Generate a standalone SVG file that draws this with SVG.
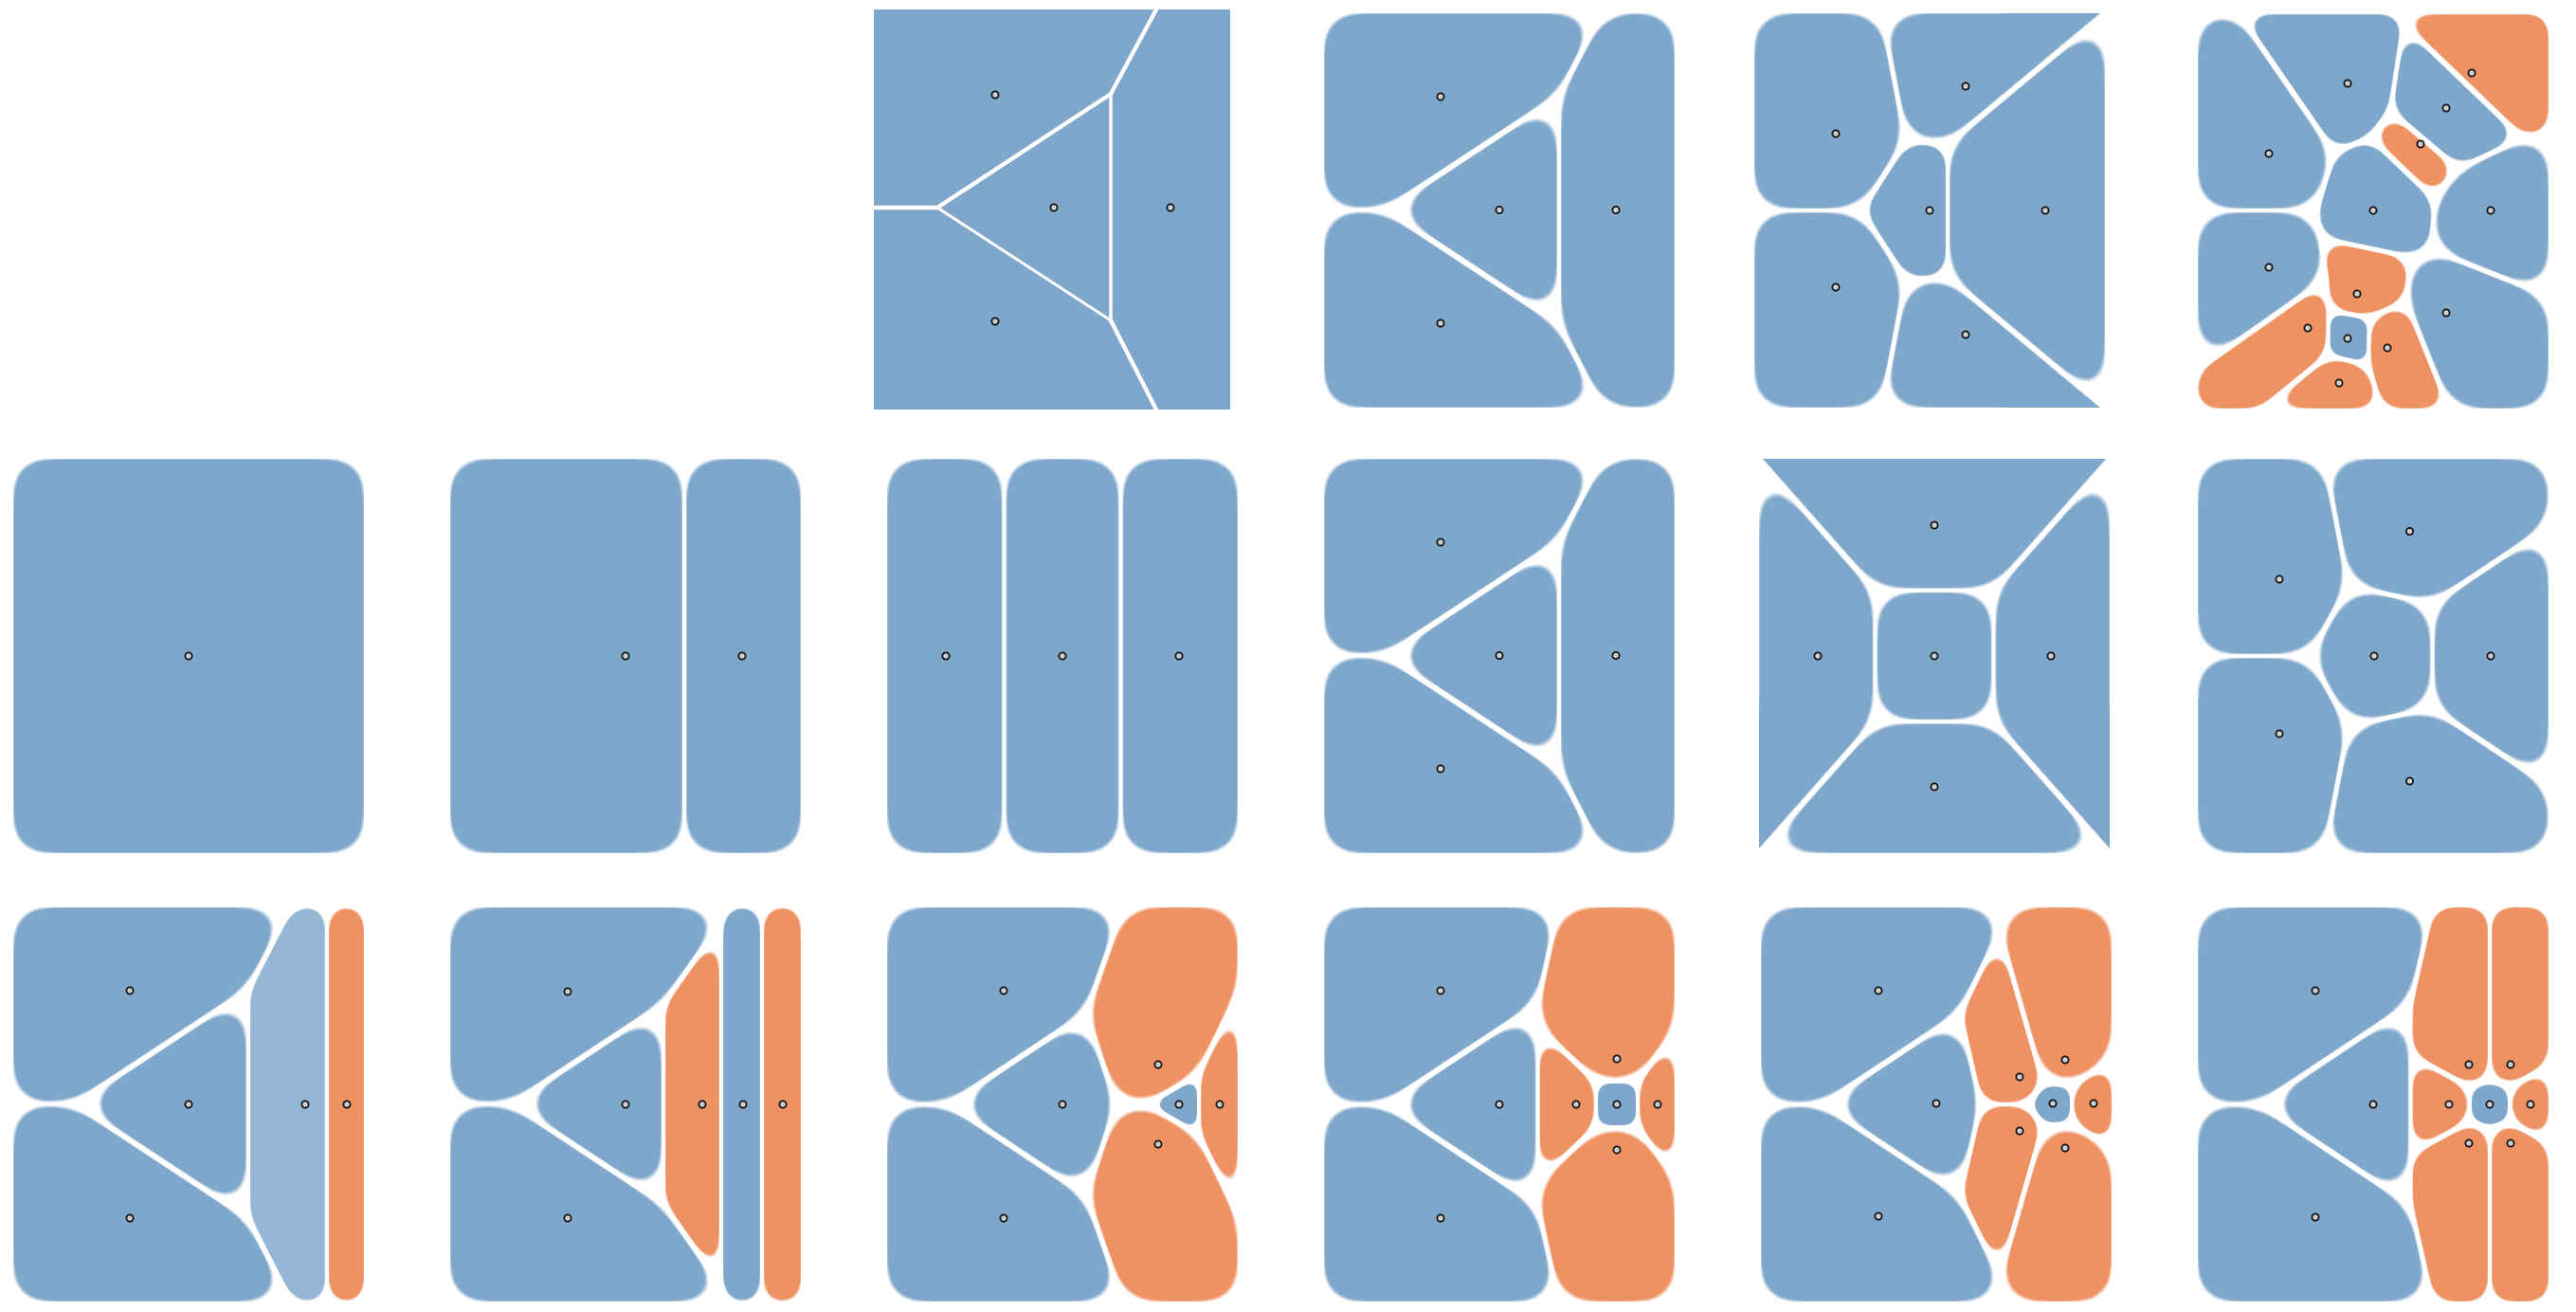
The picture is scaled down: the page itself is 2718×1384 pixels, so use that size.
<svg xmlns="http://www.w3.org/2000/svg" width="2718" height="1384" viewBox="0 0 2718 1384">
<style>
.b{fill:#7fa7cb}.o{fill:#ee9263}.lb{fill:#95b6d5}
.L{filter:url(#fL)}.M{filter:url(#fM)}.S{filter:url(#fS)}
.c{clip-path:url(#dom)}
.s{fill:#cfcfcf;stroke:#111;stroke-width:1.8}
.ln{stroke:#fff;fill:none;stroke-linecap:round}
</style>
<defs>
<filter id="fL" x="-25%" y="-25%" width="150%" height="150%" color-interpolation-filters="sRGB">
<feMorphology in="SourceAlpha" operator="erode" radius="2.4" result="e"/>
<feGaussianBlur in="e" stdDeviation="20" result="bl"/>
<feComponentTransfer in="bl" result="t"><feFuncA type="linear" slope="14" intercept="-6.4"/></feComponentTransfer>
<feComposite in="SourceGraphic" in2="t" operator="in" result="k"/>
<feComposite in="k" in2="e" operator="in"/>
</filter>
<filter id="fM" x="-25%" y="-25%" width="150%" height="150%" color-interpolation-filters="sRGB">
<feMorphology in="SourceAlpha" operator="erode" radius="2.4" result="e"/>
<feGaussianBlur in="e" stdDeviation="12" result="bl"/>
<feComponentTransfer in="bl" result="t"><feFuncA type="linear" slope="14" intercept="-6.4"/></feComponentTransfer>
<feComposite in="SourceGraphic" in2="t" operator="in" result="k"/>
<feComposite in="k" in2="e" operator="in"/>
</filter>
<filter id="fS" x="-25%" y="-25%" width="150%" height="150%" color-interpolation-filters="sRGB">
<feMorphology in="SourceAlpha" operator="erode" radius="2.4" result="e"/>
<feGaussianBlur in="e" stdDeviation="7" result="bl"/>
<feComponentTransfer in="bl" result="t"><feFuncA type="linear" slope="14" intercept="-6.4"/></feComponentTransfer>
<feComposite in="SourceGraphic" in2="t" operator="in" result="k"/>
<feComposite in="k" in2="e" operator="in"/>
</filter>
<clipPath id="dom" clipPathUnits="userSpaceOnUse"><rect x="2" y="2" width="370" height="416"/></clipPath>
</defs>
<rect width="2718" height="1384" fill="#fff"/>

<!-- Row 1, panel 3 (hard Voronoi) -->
<g id="r1p3" transform="translate(922,10)">
<rect class="b" x="0" y="0" width="376" height="422"/>
<g class="ln">
<path stroke-width="4.4" d="M0,209 L67,209 L250,89 L298,0"/>
<path stroke-width="3" d="M67,209 L250,328"/>
<path stroke-width="3.4" d="M250,89 L250,328"/>
<path stroke-width="4.4" d="M250,328 L298,422"/>
</g>
<circle class="s" cx="128" cy="90" r="3.6"/><circle class="s" cx="190" cy="209" r="3.6"/><circle class="s" cx="313" cy="209" r="3.6"/><circle class="s" cx="128" cy="329" r="3.6"/>
</g>

<!-- Row 1, panel 4 -->
<g id="r1p4" transform="translate(1395,12)">
<polygon class="b L" points="0,0 296,0 250,89 67,209.5 0,209.5"/>
<polygon class="b L" points="67,209.5 250,89 250,330"/>
<polygon class="b L" points="296,0 374,0 374,420 296,420 250,330 250,89"/>
<polygon class="b L" points="0,209.5 67,209.5 250,330 296,420 0,420"/>
<circle class="s" cx="125" cy="90" r="3.6"/><circle class="s" cx="187" cy="209.5" r="3.6"/><circle class="s" cx="310" cy="209.5" r="3.6"/><circle class="s" cx="125" cy="329" r="3.6"/>
</g>

<!-- Row 1, panel 5 -->
<g id="r1p5" transform="translate(1849,12)">
<polygon class="b L" points="0,0 136,0 162,137 115,210 0,210"/>
<g class="c"><polygon class="b L" points="136,0 300,0 300,-49 433,-49 206,140 162,137"/></g>
<polygon class="b M" points="162,137 206,140 206,280 162,283 115,210"/>
<polygon class="b L" points="374,0 374,420 206,280 206,140"/>
<polygon class="b L" points="0,210 115,210 162,283 136,420 0,420"/>
<g class="c"><polygon class="b L" points="136,420 162,283 206,280 433,469 300,469 300,420"/></g>
<circle class="s" cx="88" cy="129" r="3.6"/><circle class="s" cx="225" cy="79" r="3.6"/><circle class="s" cx="187" cy="210" r="3.6"/><circle class="s" cx="309" cy="210" r="3.6"/><circle class="s" cx="88" cy="291" r="3.6"/><circle class="s" cx="225" cy="341" r="3.6"/>
</g>

<!-- Row 1, panel 6 -->
<g id="r1p6" transform="translate(2317,13)">
<polygon class="b L" points="0,0 44,0 146,148 127,209 0,209"/>
<polygon class="b M" points="44,0 219,0 219,12 205,104 184,132 146,148"/>
<polygon class="o M" points="219,0 374,0 374,127 345,133 219,12"/>
<polygon class="b M" points="219,12 345,133 277,165 205,104"/>
<polygon class="o M" points="205,104 277,165 252,197 184,132"/>
<polygon class="b L" points="252,197 277,165 345,133 374,127 374,300 248,250"/>
<polygon class="b M" points="146,148 184,132 252,197 248,250 226,258 131,238 127,209"/>
<polygon class="b L" points="0,209 127,209 131,238 138,281 0,378"/>
<polygon class="o M" points="131,238 226,258 222,305 183,322 140,315 138,281"/>
<polygon class="o M" points="0,378 138,281 140,315 139,362 68,420 0,420"/>
<polygon class="b S" points="140,315 183,322 182,372 139,362"/>
<polygon class="o M" points="183,322 222,305 268,420 196,420 182,372"/>
<polygon class="o M" points="139,362 182,372 196,420 68,420"/>
<polygon class="b L" points="248,250 374,300 374,420 268,420 222,305 226,258"/>
<circle class="s" cx="160" cy="75" r="3.6"/><circle class="s" cx="291" cy="64" r="3.6"/><circle class="s" cx="264" cy="101" r="3.6"/><circle class="s" cx="77" cy="149" r="3.6"/><circle class="s" cx="237" cy="139" r="3.6"/><circle class="s" cx="187" cy="209" r="3.6"/><circle class="s" cx="311" cy="209" r="3.6"/><circle class="s" cx="77" cy="269" r="3.6"/><circle class="s" cx="170" cy="297" r="3.6"/><circle class="s" cx="118" cy="333" r="3.6"/><circle class="s" cx="160" cy="344" r="3.6"/><circle class="s" cx="202" cy="354" r="3.6"/><circle class="s" cx="151" cy="391" r="3.6"/><circle class="s" cx="264" cy="317" r="3.6"/>
</g>

<!-- Row 2 -->
<g id="r2p1" transform="translate(12,482)">
<polygon class="b L" points="0,0 374,0 374,420 0,420"/>
<circle class="s" cx="187" cy="210" r="3.6"/>
</g>
<g id="r2p2" transform="translate(473,482)">
<polygon class="b L" points="0,0 249,0 249,420 0,420"/>
<polygon class="b L" points="249,0 374,0 374,420 249,420"/>
<circle class="s" cx="187" cy="210" r="3.6"/><circle class="s" cx="310" cy="210" r="3.6"/>
</g>
<g id="r2p3" transform="translate(934,482)">
<polygon class="b L" points="0,0 125.5,0 125.5,420 0,420"/>
<polygon class="b L" points="125.5,0 248.5,0 248.5,420 125.5,420"/>
<polygon class="b L" points="248.5,0 374,0 374,420 248.5,420"/>
<circle class="s" cx="64" cy="210" r="3.6"/><circle class="s" cx="187" cy="210" r="3.6"/><circle class="s" cx="310" cy="210" r="3.6"/>
</g>
<g id="r2p4" transform="translate(1395,482)">
<polygon class="b L" points="0,0 296,0 250,89 67,209.5 0,209.5"/>
<polygon class="b L" points="67,209.5 250,89 250,330"/>
<polygon class="b L" points="296,0 374,0 374,420 296,420 250,330 250,89"/>
<polygon class="b L" points="0,209.5 67,209.5 250,330 296,420 0,420"/>
<circle class="s" cx="125" cy="90" r="3.6"/><circle class="s" cx="187" cy="209.5" r="3.6"/><circle class="s" cx="310" cy="209.5" r="3.6"/><circle class="s" cx="125" cy="329" r="3.6"/>
</g>
<g id="r2p5" transform="translate(1854,482)">
<g class="c"><polygon class="b L" points="-43.6,-49.3 417.6,-49.3 249.5,140.8 124.5,140.8"/></g>
<g class="c"><polygon class="b L" points="0,0 124.5,140.8 124.5,279.2 -43.6,469.3 -50,469.3 -50,300 0,300"/></g>
<polygon class="b L" points="124.5,140.8 249.5,140.8 249.5,279.2 124.5,279.2"/>
<g class="c"><polygon class="b L" points="374,0 374,300 424,300 424,469.3 417.6,469.3 249.5,279.2 249.5,140.8"/></g>
<polygon class="b L" points="0,420 124.5,279.2 249.5,279.2 374,420"/>
<circle class="s" cx="187" cy="72" r="3.6"/><circle class="s" cx="64" cy="210" r="3.6"/><circle class="s" cx="187" cy="210" r="3.6"/><circle class="s" cx="310" cy="210" r="3.6"/><circle class="s" cx="187" cy="348" r="3.6"/>
</g>
<g id="r2p6" transform="translate(2317,482)">
<polygon class="b L" points="0,0 135,0 161,136 120,210 0,210"/>
<polygon class="b L" points="135,0 374,0 374,72 249.5,155 161,136"/>
<polygon class="b L" points="161,136 249.5,155 249.5,265 161,284 120,210"/>
<polygon class="b L" points="374,72 374,348 249.5,265 249.5,155"/>
<polygon class="b L" points="0,210 120,210 161,284 135,420 0,420"/>
<polygon class="b L" points="135,420 161,284 249.5,265 374,348 374,420"/>
<circle class="s" cx="88" cy="129" r="3.6"/><circle class="s" cx="225.5" cy="78.5" r="3.6"/><circle class="s" cx="188" cy="210" r="3.6"/><circle class="s" cx="311" cy="210" r="3.6"/><circle class="s" cx="88" cy="292" r="3.6"/><circle class="s" cx="225.5" cy="342" r="3.6"/>
</g>

<!-- Row 3 -->
<g id="r3p1" transform="translate(12,955)">
<polygon class="b L" points="0,0 296,0 250,89 67,209.5 0,209.5"/>
<polygon class="b L" points="67,209.5 250,89 250,330"/>
<polygon class="lb M" points="296,0 333,0 333,420 296,420 250,330 250,89"/>
<polygon class="o M" points="333,0 374,0 374,420 333,420"/>
<polygon class="b L" points="0,209.5 67,209.5 250,330 296,420 0,420"/>
<circle class="s" cx="125" cy="90" r="3.6"/><circle class="s" cx="187" cy="210" r="3.6"/><circle class="s" cx="310" cy="210" r="3.6"/><circle class="s" cx="354" cy="210" r="3.6"/><circle class="s" cx="125" cy="330" r="3.6"/>
</g>
<g id="r3p2" transform="translate(473,955)">
<polygon class="b L" points="0,0 291,0 288,18 227,104 67,209.5 0,209.5"/>
<polygon class="b L" points="67,209.5 227,104 227,315"/>
<polygon class="o M" points="227,104 288,18 288,402 227,315"/>
<polygon class="b M" points="291,0 331,0 331,420 291,420 288,402 288,18"/>
<polygon class="o M" points="331,0 374,0 374,420 331,420"/>
<polygon class="b L" points="0,209.5 67,209.5 227,315 288,402 291,420 0,420"/>
<circle class="s" cx="126" cy="91" r="3.6"/><circle class="s" cx="187" cy="210" r="3.6"/><circle class="s" cx="268" cy="210" r="3.6"/><circle class="s" cx="311" cy="210" r="3.6"/><circle class="s" cx="353" cy="210" r="3.6"/><circle class="s" cx="126" cy="330" r="3.6"/>
</g>
<g id="r3p3" transform="translate(934,955)">
<polygon class="b L" points="0,0 252,0 212,114 67,210 0,210"/>
<polygon class="b L" points="67,210 212,114 244,210 212,306"/>
<polygon class="o L" points="252,0 374,0 374,88 331,178 276,210 244,210 212,114"/>
<polygon class="o M" points="374,88 331,178 331,242 374,332"/>
<polygon class="b S" points="331,178 276,210 331,242"/>
<polygon class="o L" points="244,210 276,210 331,242 374,332 374,420 252,420 212,306"/>
<polygon class="b L" points="0,210 67,210 212,306 252,420 0,420"/>
<circle class="s" cx="125" cy="90" r="3.6"/><circle class="s" cx="187" cy="210" r="3.6"/><circle class="s" cx="288" cy="168" r="3.6"/><circle class="s" cx="310" cy="210" r="3.6"/><circle class="s" cx="353" cy="210" r="3.6"/><circle class="s" cx="288" cy="252" r="3.6"/><circle class="s" cx="125" cy="330" r="3.6"/>
</g>
<g id="r3p4" transform="translate(1395,955)">
<polygon class="b L" points="0,0 250,0 227.5,104 67,210 0,210"/>
<polygon class="b L" points="67,210 227.5,104 227.5,316"/>
<polygon class="o L" points="250,0 374,0 374,130 333,186 289,186 227.5,128 227.5,104"/>
<polygon class="o M" points="227.5,128 289,186 289,234 227.5,292"/>
<polygon class="b S" points="289,186 333,186 333,234 289,234"/>
<polygon class="o M" points="374,130 333,186 333,234 374,290"/>
<polygon class="o L" points="227.5,316 227.5,292 289,234 333,234 374,290 374,420 250,420"/>
<polygon class="b L" points="0,210 67,210 227.5,316 250,420 0,420"/>
<circle class="s" cx="125" cy="90" r="3.6"/><circle class="s" cx="187" cy="210" r="3.6"/><circle class="s" cx="268" cy="210" r="3.6"/><circle class="s" cx="311" cy="162" r="3.6"/><circle class="s" cx="311" cy="210" r="3.6"/><circle class="s" cx="354" cy="210" r="3.6"/><circle class="s" cx="311" cy="258" r="3.6"/><circle class="s" cx="125" cy="330" r="3.6"/>
</g>
<g id="r3p5" transform="translate(1856,955)">
<polygon class="b L" points="0,0 258,0 254,28 212,114 67,210 0,210"/>
<polygon class="b L" points="67,210 212,114 234,210 212,306"/>
<polygon class="o M" points="254,28 300,188 284,210 234,210 212,114"/>
<polygon class="o L" points="258,0 374,0 374,162 330,190 300,188 254,28"/>
<polygon class="b S" points="284,210 300,188 330,190 330,230 300,232"/>
<polygon class="o M" points="374,162 330,190 330,230 374,258"/>
<polygon class="o M" points="254,392 300,232 284,210 234,210 212,306"/>
<polygon class="o L" points="258,420 374,420 374,258 330,230 300,232 254,392"/>
<polygon class="b L" points="0,210 67,210 212,306 254,392 258,420 0,420"/>
<circle class="s" cx="126" cy="90" r="3.6"/><circle class="s" cx="187" cy="209" r="3.6"/><circle class="s" cx="275" cy="181" r="3.6"/><circle class="s" cx="323" cy="163" r="3.6"/><circle class="s" cx="310" cy="209" r="3.6"/><circle class="s" cx="353" cy="209" r="3.6"/><circle class="s" cx="275" cy="238" r="3.6"/><circle class="s" cx="323" cy="256" r="3.6"/><circle class="s" cx="126" cy="328" r="3.6"/>
</g>
<g id="r3p6" transform="translate(2317,955)">
<polygon class="b L" points="0,0 250,0 226.5,104 67,210 0,210"/>
<polygon class="b L" points="67,210 226.5,104 226.5,316"/>
<polygon class="o M" points="250,0 310,0 310,185 289,192 226.5,158 226.5,104"/>
<polygon class="o M" points="310,0 374,0 374,168 331,192 310,185"/>
<polygon class="o M" points="226.5,158 289,192 289,228 226.5,262"/>
<polygon class="b S" points="289,192 310,185 331,192 331,228 310,235 289,228"/>
<polygon class="o M" points="374,168 331,192 331,228 374,252"/>
<polygon class="o M" points="226.5,316 226.5,262 289,228 310,235 310,420 250,420"/>
<polygon class="o M" points="310,420 310,235 331,228 374,252 374,420"/>
<polygon class="b L" points="0,210 67,210 226.5,316 250,420 0,420"/>
<circle class="s" cx="126" cy="90" r="3.6"/><circle class="s" cx="187" cy="210" r="3.6"/><circle class="s" cx="288" cy="168" r="3.6"/><circle class="s" cx="332" cy="168" r="3.6"/><circle class="s" cx="267" cy="210" r="3.6"/><circle class="s" cx="310" cy="210" r="3.6"/><circle class="s" cx="353" cy="210" r="3.6"/><circle class="s" cx="288" cy="251" r="3.6"/><circle class="s" cx="332" cy="251" r="3.6"/><circle class="s" cx="126" cy="329" r="3.6"/>
</g>
</svg>
